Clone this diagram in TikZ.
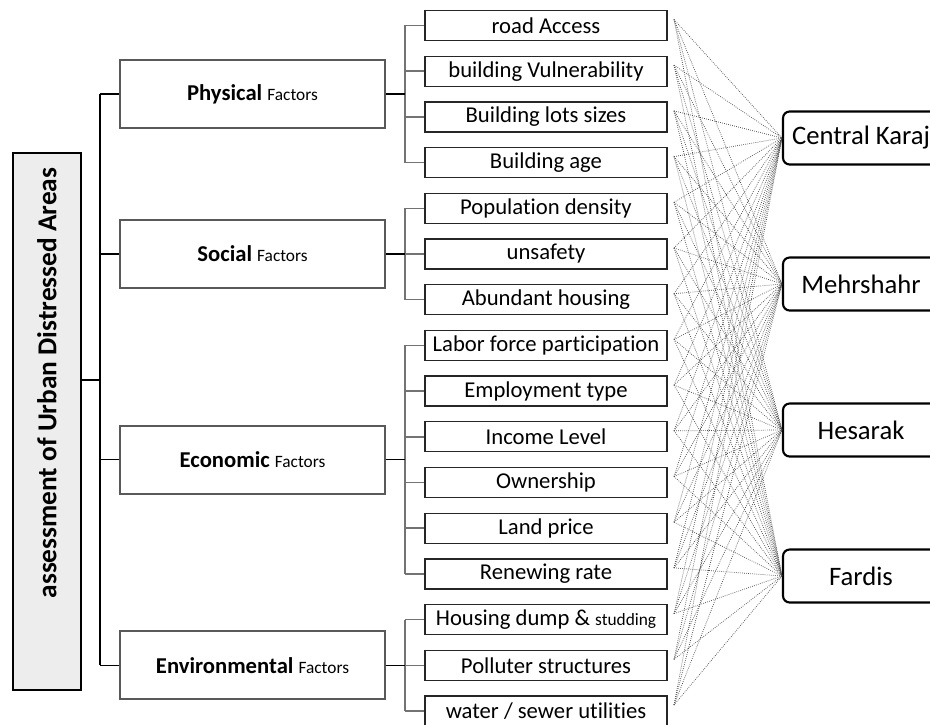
\documentclass[tikz,border=0pt]{standalone}
\usepackage{fontspec}
\setmainfont{Carlito}[Ligatures=NoCommon]
\newcommand{\smallfac}{\fontsize{13}{15}\selectfont}
\begin{document}
\begin{tikzpicture}[x=0.75pt,y=-0.75pt,
  fbox/.style={draw=black!85, line width=1pt, minimum width=181.5pt, minimum height=22.5pt, inner sep=0pt, font=\fontsize{17}{20}\selectfont},
  cbox/.style={draw=black!65, line width=1.6pt, minimum width=198.75pt, minimum height=51pt, inner sep=0pt, font=\fontsize{17}{20}\selectfont},
  city/.style={draw=black, line width=1.6pt, rounded corners=5pt, minimum width=117pt, minimum height=39.75pt, inner sep=0pt, font=\fontsize{20}{23}\selectfont},
  rootbox/.style={draw=black, line width=2.2pt, fill=black!7, minimum width=51pt, minimum height=402.75pt, inner sep=0pt},
  roottext/.style={rotate=90, inner sep=0pt, font=\bfseries\fontsize{20.5}{24}\selectfont},
  tree/.style={line width=1.1pt, black},
  sub/.style={line width=1.1pt, black!55},
  link/.style={densely dotted, line width=0.55pt, black!70}
]
\useasboundingbox (0,0) rectangle (930,724);
\clip (0,0) rectangle (930,724);

% root
\node[rootbox] (root) at (47,421.5) {};
\node[roottext] (rootlabel) at (47,383) {assessment of Urban Distressed Areas};

% factors
\foreach \t [count=\i from 0] in {road Access, building Vulnerability, Building lots sizes, Building age, Population density, unsafety, Abundant housing, Labor force participation, Employment type, Income Level, Ownership, Land price, Renewing rate, {Housing dump \& {\smallfac studding}}, Polluter structures, water / sewer utilities}{
  \node[fbox] (f\i) at (546,{25.5+45.7*\i}) {\t};
  \coordinate (p\i) at (674,{25.5+45.7*\i-6});
}

% categories
\node[cbox] (phys) at (252.5,94) {\textbf{Physical} {\smallfac Factors}};
\node[cbox] (soc) at (252.5,254) {\textbf{Social} {\smallfac Factors}};
\node[cbox] (eco) at (252.5,459.7) {\textbf{Economic} {\smallfac Factors}};
\node[cbox] (env) at (252.5,665.3) {\textbf{Environmental} {\smallfac Factors}};

% main trunk
\coordinate (tTop) at (100,94);
\coordinate (tBot) at (100,665.3);
\coordinate (tMid) at (100,380);
\draw[tree] (tTop) -- (tBot);
\draw[tree] (root.east |- tMid) -- (tMid);
\foreach \c in {phys,soc,eco,env}{
  \draw[tree] (tTop |- \c.west) -- (\c.west);
}

% sub trees
\foreach \c/\a/\b in {phys/0/3, soc/4/6, eco/7/12, env/13/15}{
  \coordinate (s\c) at (405,0);
  \draw[sub] (s\c |- f\a.west) -- (s\c |- f\b.west);
  \foreach \k in {\a,...,\b}{
    \draw[sub] (s\c |- f\k.west) -- (f\k.west);
  }
  \draw[tree] (\c.east) -- (s\c |- \c.east);
}

% cities
\foreach \t [count=\j] in {Central Karaj, Mehrshahr, Hesarak, Fardis}{
  \node[city] (c\j) at (861,{138+146*(\j-1)}) {\t};
}

% links
\foreach \i in {0,...,15}{
  \foreach \j in {1,...,4}{
    \draw[link] (p\i) -- (c\j.west);
  }
}
\end{tikzpicture}
\end{document}
